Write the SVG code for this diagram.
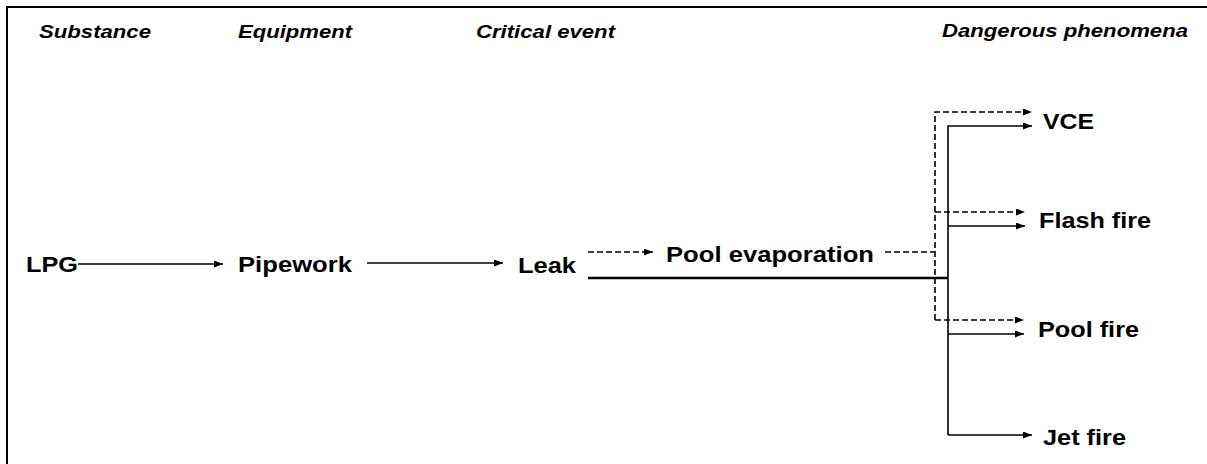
<svg xmlns="http://www.w3.org/2000/svg" width="1207" height="464" viewBox="0 0 1207 464">
<defs>
<marker id="ah" markerUnits="userSpaceOnUse" markerWidth="9" markerHeight="7" refX="9" refY="3.5" orient="auto">
<path d="M0,0 L9,3.5 L0,7 z" fill="#000"/>
</marker>
<style>
.hd{font-family:"Liberation Sans",Arial,sans-serif;font-weight:bold;font-style:italic;font-size:17.5px;fill:#000}
.tx{font-family:"Liberation Sans",Arial,sans-serif;font-weight:bold;font-size:22px;fill:#000}
.ln{fill:none;stroke:#000;stroke-width:1.6}
.ds{fill:none;stroke:#000;stroke-width:1.6;stroke-dasharray:6,3}
.ar{marker-end:url(#ah)}
.tk{fill:none;stroke:#000;stroke-width:2.6}
</style>
</defs>
<rect x="0" y="0" width="1207" height="464" fill="#fff"/>
<rect x="7" y="7" width="1220" height="480" fill="none" stroke="#000" stroke-width="2"/>
<g id="headers">
<text class="hd" x="39" y="38" textLength="112" lengthAdjust="spacingAndGlyphs">Substance</text>
<text class="hd" x="238" y="38" textLength="114" lengthAdjust="spacingAndGlyphs">Equipment</text>
<text class="hd" x="476" y="38" textLength="139" lengthAdjust="spacingAndGlyphs">Critical event</text>
<text class="hd" x="942" y="37" textLength="246" lengthAdjust="spacingAndGlyphs">Dangerous phenomena</text>
</g>
<g id="connectors">
<line class="ln ar" x1="78" y1="264" x2="223" y2="264"/>
<line class="ln ar" x1="367" y1="263" x2="503" y2="263"/>
<line class="ds ar" x1="588" y1="252" x2="653" y2="252"/>
<line class="ds" x1="885" y1="252" x2="935" y2="252"/>
<line class="tk" x1="588" y1="278" x2="948" y2="278"/>
<polyline class="ds ar" points="935,320 935,112 1032,112"/>
<line class="ds ar" x1="935" y1="212" x2="1025" y2="212"/>
<line class="ds ar" x1="935" y1="320" x2="1024" y2="320"/>
<polyline class="ln ar" points="948,435 948,126 1032,126"/>
<line class="ln ar" x1="948" y1="226" x2="1025" y2="226"/>
<line class="ln ar" x1="948" y1="334" x2="1024" y2="334"/>
<line class="ln ar" x1="948" y1="435" x2="1032" y2="435"/>
</g>
<g id="n-lpg"><text class="tx" x="26" y="272" textLength="52" lengthAdjust="spacingAndGlyphs">LPG</text></g>
<g id="n-pipework"><text class="tx" x="238" y="272" textLength="114" lengthAdjust="spacingAndGlyphs">Pipework</text></g>
<g id="n-leak"><text class="tx" x="518" y="273" textLength="58" lengthAdjust="spacingAndGlyphs">Leak</text></g>
<g id="n-pool-evap"><text class="tx" x="666" y="262" textLength="208" lengthAdjust="spacingAndGlyphs">Pool evaporation</text></g>
<g id="n-vce"><text class="tx" x="1043" y="129" textLength="51" lengthAdjust="spacingAndGlyphs">VCE</text></g>
<g id="n-flash"><text class="tx" x="1039" y="228" textLength="112" lengthAdjust="spacingAndGlyphs">Flash fire</text></g>
<g id="n-poolfire"><text class="tx" x="1038" y="337" textLength="101" lengthAdjust="spacingAndGlyphs">Pool fire</text></g>
<g id="n-jet"><text class="tx" x="1043" y="445" textLength="83" lengthAdjust="spacingAndGlyphs">Jet fire</text></g>
</svg>
